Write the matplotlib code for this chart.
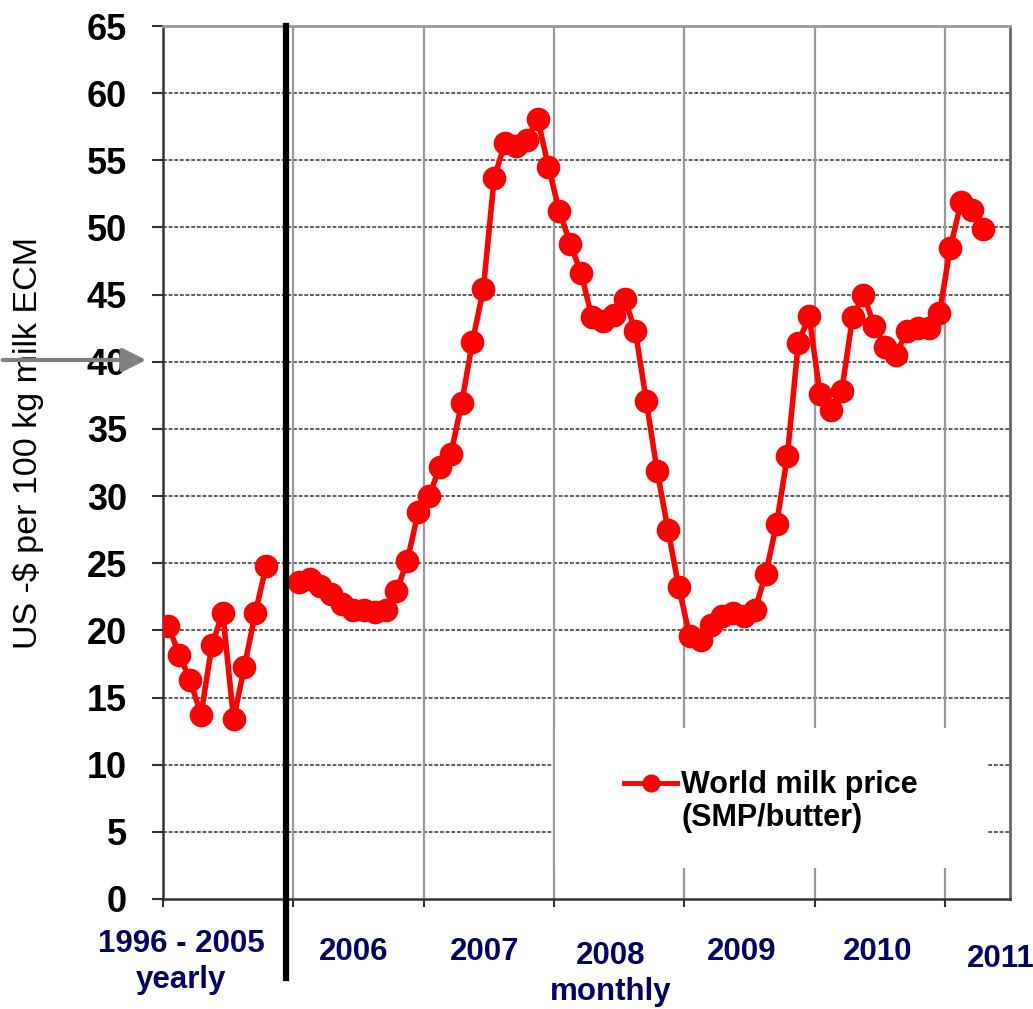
import numpy as np
import matplotlib
matplotlib.use("Agg")
import matplotlib.pyplot as plt
from matplotlib.patches import Rectangle, FancyArrowPatch
from matplotlib.lines import Line2D

plt.rcParams["font.family"] = ["Liberation Sans", "DejaVu Sans"]

# yearly averages 1996-2005, then monthly Jan 2006 - Apr 2011
yearly = [20.3, 18.2, 16.3, 13.7, 18.9, 21.3, 13.4, 17.3, 21.3, 24.8]
m2006 = [23.6, 23.8, 23.3, 22.7, 22.0, 21.5, 21.5, 21.4, 21.5, 22.9, 25.2, 28.8]
m2007 = [30.0, 32.2, 33.1, 36.9, 41.5, 45.4, 53.7, 56.3, 56.1, 56.5, 58.1, 54.5]
m2008 = [51.2, 48.8, 46.6, 43.3, 43.0, 43.5, 44.7, 42.3, 37.1, 31.9, 27.5, 23.2]
m2009 = [19.6, 19.3, 20.4, 21.1, 21.3, 21.1, 21.5, 24.2, 27.9, 33.0, 41.4, 43.4]
m2010 = [37.6, 36.4, 37.8, 43.3, 45.0, 42.7, 41.1, 40.5, 42.3, 42.5, 42.5, 43.6]
m2011 = [48.5, 51.9, 51.3, 49.9]

period_labels = ["1996 - 2005\nyearly", "2006", "2007", "2008\nmonthly", "2009", "2010", "2011"]
series_label = ["World milk price", "(SMP/butter)"]
ylabel = "US -$ per 100 kg milk ECM"

W, H = 1033, 1009
fig = plt.figure(figsize=(W / 100, H / 100), dpi=100)
ax = fig.add_axes([163 / W, 1 - 899 / H, 847 / W, 873 / H])

# 12 slots for the yearly block (10 years + 2 empty), then one slot per month
values = np.array(yearly + [np.nan, np.nan] + m2006 + m2007 + m2008 + m2009 + m2010 + m2011)
x = np.arange(len(values)) + 0.5
n_slots = 78

ax.set_xlim(0, n_slots)
ax.set_ylim(0, 65)
ax.set_yticks(np.arange(0, 66, 5))
ax.set_xticks(np.arange(0, 73, 12))
ax.set_xticklabels([])
ax.tick_params(axis="y", length=8, width=1.5, pad=18, labelsize=26, color="#333333")
ax.tick_params(axis="x", length=6, width=1.5, color="#333333")
for t in ax.get_yticklabels():
    t.set_fontweight("bold")

for v in np.arange(5, 65, 5):
    ax.axhline(v, color="#333333", lw=1.1, ls=(0, (2.5, 1.2)), zorder=1)
for v in np.arange(12, 73, 12):
    ax.axvline(v, color="#999999", lw=1.6, zorder=1)

for side in ["left", "bottom"]:
    ax.spines[side].set_color("#333333")
    ax.spines[side].set_linewidth(1.8)
ax.spines["top"].set_color("#999999")
ax.spines["top"].set_linewidth(2)
ax.spines["right"].set_color("#666666")
ax.spines["right"].set_linewidth(2)

# white area behind legend
ax.add_patch(Rectangle((0.463, 0.0355), 0.51, 0.160, transform=ax.transAxes,
                       facecolor="white", edgecolor="none", zorder=2))

ax.plot(x, values, color="#ff0000", lw=4, marker="o", ms=16, zorder=4)

# thick separator between yearly and monthly parts
ax.plot([11.3, 11.3], [1.0, -0.09], color="black", lw=4.5,
        transform=ax.get_xaxis_transform(), clip_on=False, zorder=5)

leg_handles = [Line2D([], [], color="#ff0000", lw=3.5, marker="o", ms=12),
               Line2D([], [], color="none")]
ax.legend(leg_handles, series_label, loc="upper left", frameon=False,
          bbox_to_anchor=(609 / W, 1 - 755 / H), bbox_transform=fig.transFigure,
          borderpad=0, handlelength=1.72, handletextpad=0.15, labelspacing=0.08,
          prop={"size": 22, "weight": "bold"})

fig.text(28 / W, 1 - 443 / H, ylabel, rotation=90, ha="center", va="center",
         fontsize=24.5)

label_pos = [(181, 962), (354, 952), (485, 952), (611, 974), (742, 952), (878, 952), (967, 959)]
for (px, py), lab in zip(label_pos, period_labels):
    ha = "left" if lab == "2011" else "center"
    fig.text(px / W, 1 - py / H, lab, ha=ha, va="center", fontsize=22.5,
             fontweight="bold", color="#000066", linespacing=1.25,
             multialignment="center")

arrow = FancyArrowPatch((0, 1 - 360 / H), (149 / W, 1 - 360 / H),
                        transform=fig.transFigure, arrowstyle="-|>,head_length=0.9,head_width=0.45",
                        mutation_scale=16, lw=3, color="#808080", zorder=10)
fig.add_artist(arrow)

fig.savefig("out.png", dpi=100)
